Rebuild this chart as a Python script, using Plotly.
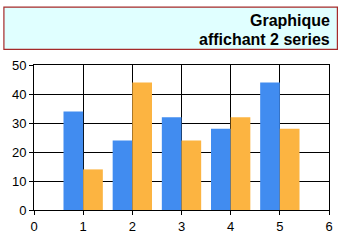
import plotly.graph_objects as go

x_vals = [1, 2, 3, 4, 5]
series1 = [34, 24, 32, 28, 44]
series2 = [14, 44, 24, 32, 28]
title_lines = ["Graphique", "affichant 2 series"]

W, H = 345, 246
L, R, T, B = 34, 12, 65, 27
pw, ph = W - L - R, H - T - B

def px_x(p):
    return (p - L) / pw

def px_y(p):
    return (H - B - p) / ph

fig = go.Figure()
fig.add_trace(go.Bar(x=x_vals, y=series1, marker=dict(color="#418CF0", line=dict(width=0)), name="Series1"))
fig.add_trace(go.Bar(x=x_vals, y=series2, marker=dict(color="#FCB441", line=dict(width=0)), name="Series2"))

axis_common = dict(
    showgrid=True, gridcolor="black", gridwidth=1,
    showline=True, linecolor="black", linewidth=1,
    ticks="outside", ticklen=4, tickcolor="black",
    tickfont=dict(family="Liberation Sans, Arial", size=13, color="black"),
    zeroline=False,
)

title_y = [17.5, 37.5]
annotations = [
    dict(
        xref="paper", yref="paper", x=px_x(336), y=px_y(yy),
        xanchor="right", yanchor="middle", align="right",
        text="<b>" + line + "</b>", showarrow=False,
        font=dict(family="Liberation Sans, Arial", size=16, color="black"),
    )
    for line, yy in zip(title_lines, title_y)
]

fig.update_layout(
    width=W, height=H,
    margin=dict(l=L, r=R, t=T, b=B),
    paper_bgcolor="white", plot_bgcolor="white",
    barmode="group", bargap=0.2, bargroupgap=0,
    showlegend=False,
    xaxis=dict(range=[0, 6], dtick=1, tick0=0, mirror=True, **axis_common),
    yaxis=dict(range=[0, 50], dtick=10, tick0=0, mirror=True, **axis_common),
    shapes=[dict(
        type="rect", xref="paper", yref="paper",
        x0=px_x(3.5), x1=px_x(341.5), y0=px_y(48.5), y1=px_y(3.5),
        fillcolor="#E0FFFF", line=dict(color="#A52A2A", width=1.2), layer="below",
    )],
    annotations=annotations,
)

fig.write_html("out.html")
